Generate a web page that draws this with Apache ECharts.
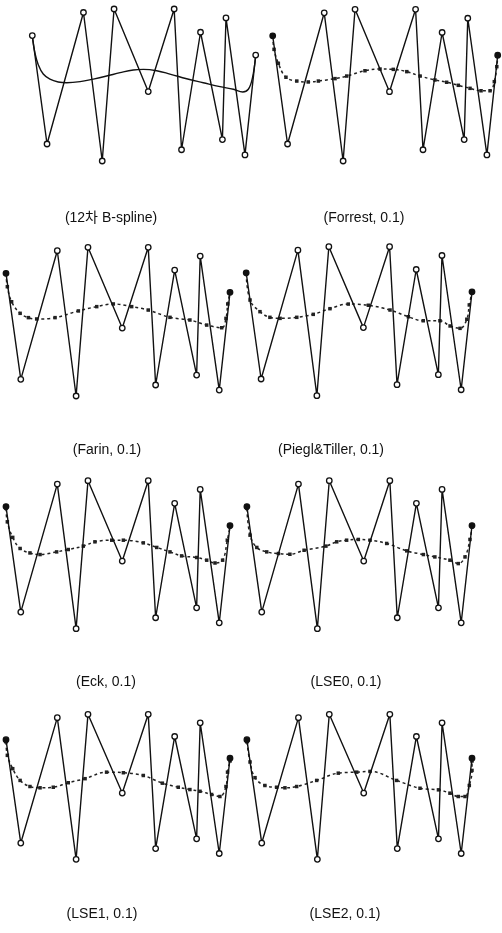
<!DOCTYPE html>
<html>
<head>
<meta charset="utf-8">
<script src="https://cdn.jsdelivr.net/npm/echarts@6/dist/echarts.min.js"></script>
<style>
html,body{margin:0;padding:0;background:#fff;}
#chart{width:502px;height:933px;}
</style>
</head>
<body>
<div id="chart"></div>
<script>
// Control polygon (13 points, shared by all panels), normalized units 0..100
var ctrlX = [0, 6.6, 22.9, 31.3, 36.6, 51.9, 63.5, 66.8, 75.3, 85.1, 86.7, 95.2, 100];
var ctrlY = [82.5, 11.2, 97.7, 0, 100, 45.7, 100, 7.4, 84.7, 14.1, 94.1, 4.0, 69.7];

// Panel titles
var titles = ['(12차 B-spline)', '(Forrest, 0.1)', '(Farin, 0.1)', '(Piegl&Tiller, 0.1)',
              '(Eck, 0.1)', '(LSE0, 0.1)', '(LSE1, 0.1)', '(LSE2, 0.1)'];

// Curves: [x, y]
var curveBspline = [[0,81.8],[1.2,70.9],[2.7,63.2],[4.9,57.2],[7.9,53.8],[11.6,52],[15.4,51.5],[21.4,52.2],[27.3,53.9],[33.3,55.9],[39.3,58.1],[45.2,59.9],[49.7,60.3],[55.7,59.4],[61.6,57.2],[69.1,54.1],[76.5,51.5],[84,48.9],[90,47.2],[94.2,45.4],[96.7,47.2],[98.5,54.4],[100,69.1]];
var curveForrest = [[0,82.4],[0.6,73.6],[2.5,64.4],[5.9,55.2],[10.7,52.7],[15.8,52.1],[20.3,52.7],[27.7,54.3],[32.9,56],[41,59.5],[47.7,60.6],[53.6,60.4],[59.6,58.9],[65.5,56],[72.1,53.4],[77.3,51.9],[82.5,49.9],[87.7,47.9],[92.6,46.3],[96.6,46.3],[98.5,52.3],[99.6,62.2],[100,69.2]];
var curveFarin = [[0,82.5],[0.6,73.5],[2.5,63.4],[6.3,55.6],[10,52.7],[13.7,51.8],[21.9,52.7],[32.3,57.2],[40.5,60.1],[47.9,61.9],[56.1,60.1],[63.5,57.8],[73.2,52.9],[82.1,51.1],[89.6,47.7],[96.3,45.9],[98.2,52.2],[99,61.9],[100,69.7]];
var curvePiegl = [[0,82.1],[1.7,64.2],[6.1,56.4],[10.5,52.6],[15,51.9],[22.4,52.6],[29.7,54.6],[37.1,58.4],[45.2,61.5],[54.1,60.7],[63.7,57.5],[71.8,53],[78.4,50.3],[85.8,50.3],[90.3,46.8],[94.7,45.2],[97.7,51.3],[98.8,60.9],[100,69.4]];
var curveEck = [[0,81.3],[0.6,72.2],[3,61.7],[6.3,54.2],[10.7,51.2],[15.2,50.1],[22.6,51.9],[27.8,53.5],[34.5,55.8],[39.7,58.7],[47.2,59.8],[52.4,59.8],[61.3,58],[67.3,54.9],[73.2,51.9],[78.4,49.2],[85.1,48.1],[89.6,46.3],[93.3,44.4],[96.7,46.3],[98.8,59.8],[100,68.8]];
var curveLSE0 = [[0,81.3],[1.4,63.2],[4.4,54.9],[8.8,51.9],[14,50.8],[19.1,50.3],[25.4,53],[35.1,55.8],[39.9,58.7],[44.3,59.8],[49.5,60.3],[54.7,59.8],[62.1,57.6],[71,52.6],[78.4,50.1],[83.5,48.5],[90.2,46.3],[93.9,44],[96.9,48.5],[99.1,60.3],[100,68.8]];
var curveLSE1 = [[0,81],[0.6,71.7],[3,62.5],[6.3,54.4],[10.7,50.2],[15.2,49.3],[21.1,49.7],[27.8,52.8],[35.3,55.6],[44.9,60.1],[52.4,59.7],[61.3,57.8],[69.8,52.5],[76.9,49.7],[82.1,48.1],[86.6,46.9],[91.8,44.7],[95.5,43.3],[98.2,50.2],[98.9,60.1],[100,67.8]];
var curveLSE2 = [[0,81],[1.4,67.1],[3.6,56.3],[8,50.9],[13.2,49.7],[16.9,49.3],[22.1,50.2],[31,54.4],[40.6,59.4],[48.8,60.1],[54.7,60.6],[66.5,54.4],[76.9,49],[85.1,47.9],[90.2,45.6],[93.9,43.3],[96.9,43.3],[98.8,50.9],[100,61.3],[100,67.8]];

var curves = [curveBspline, curveForrest, curveFarin, curvePiegl, curveEck, curveLSE0, curveLSE1, curveLSE2];

// Layout (pixels)
var grids = [
  {left: 32.3, top: 9, width: 223.4, height: 152},
  {left: 272.7, top: 9.3, width: 225, height: 151.7},
  {left: 6, top: 247.3, width: 224, height: 148.7},
  {left: 246.2, top: 246.7, width: 225.8, height: 149},
  {left: 6, top: 480.7, width: 224, height: 148},
  {left: 246.9, top: 480.7, width: 225.1, height: 148},
  {left: 6, top: 714.3, width: 224, height: 145},
  {left: 246.9, top: 714.3, width: 225.1, height: 145}
];
var labelPos = [[111,218],[364,218],[107,450],[331,450],[106,682],[346,682],[102,914],[345,914]];

var xAxes = [], yAxes = [], series = [], graphics = [];
for (var i = 0; i < 8; i++) {
  xAxes.push({gridIndex: i, type: 'value', min: 0, max: 100, show: false});
  yAxes.push({gridIndex: i, type: 'value', min: 0, max: 100, show: false});
  var poly = [];
  for (var k = 0; k < ctrlX.length; k++) {
    var item = {value: [ctrlX[k], ctrlY[k]]};
    if (i > 0 && (k === 0 || k === ctrlX.length - 1)) {
      item.itemStyle = {color: '#111', borderColor: '#111'};
    }
    poly.push(item);
  }
  series.push({
    type: 'line', xAxisIndex: i, yAxisIndex: i, data: poly,
    symbol: 'circle', symbolSize: 5.5, z: 3,
    lineStyle: {color: '#111', width: 1.4},
    itemStyle: {color: '#fff', borderColor: '#111', borderWidth: 1.3}
  });
  if (i === 0) {
    series.push({
      type: 'line', xAxisIndex: i, yAxisIndex: i, data: curves[i],
      smooth: 0.4, symbol: 'none', z: 2,
      lineStyle: {color: '#111', width: 1.4}
    });
  } else {
    series.push({
      type: 'line', xAxisIndex: i, yAxisIndex: i, data: curves[i],
      smooth: 0.4, symbol: 'rect', symbolSize: 3.5, z: 2,
      lineStyle: {color: '#222', width: 1.5, type: [3, 3]},
      itemStyle: {color: '#222'}
    });
  }
  graphics.push({
    type: 'text', x: labelPos[i][0], y: labelPos[i][1],
    style: {text: titles[i], fill: '#111', font: '14px "Liberation Sans", "Noto Sans CJK KR", sans-serif',
            textAlign: 'center', textVerticalAlign: 'middle'}
  });
}

var chart = echarts.init(document.getElementById('chart'), null, {renderer: 'canvas'});
chart.setOption({
  animation: false,
  backgroundColor: '#fff',
  grid: grids,
  xAxis: xAxes,
  yAxis: yAxes,
  series: series,
  graphic: graphics
});
</script>
</body>
</html>
